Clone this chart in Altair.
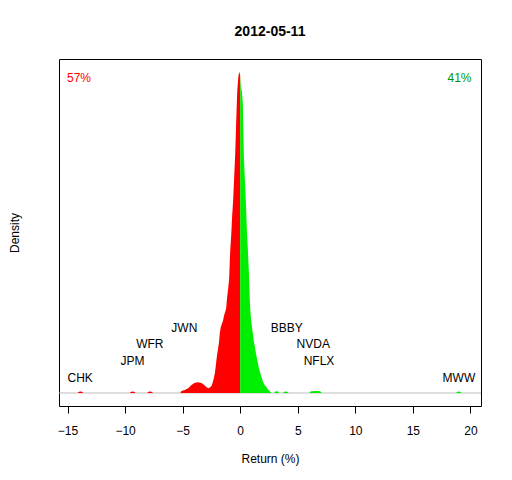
import altair as alt
import pandas as pd

# Density curve, negative-return side (return %, density)
neg_x = [-14.12, -14.0, -13.87, -13.74, -13.62,
         -9.6, -9.46, -9.34, -9.22, -9.08,
         -8.09, -7.96, -7.83, -7.70, -7.57,
         -5.2, -5.10, -4.81, -4.52, -4.23, -3.94, -3.65, -3.36, -3.13, -2.92, -2.72,
         -2.49, -2.37, -2.29, -2.20, -2.11, -2.03, -1.94, -1.85, -1.77, -1.68, -1.57,
         -1.48, -1.39, -1.30, -1.22, -1.13, -1.04, -0.96, -0.87, -0.78, -0.70, -0.61,
         -0.52, -0.43, -0.35, -0.26, -0.17, -0.09, 0.0]
neg_d = [0, 0.0021, 0.0024, 0.0021, 0,
         0, 0.0021, 0.0024, 0.0021, 0,
         0, 0.0021, 0.0024, 0.0021, 0,
         0, 0.0033, 0.005, 0.0078, 0.0133, 0.0172, 0.0178, 0.0167, 0.0133, 0.0095, 0.0078,
         0.0117, 0.0188, 0.0245, 0.0328, 0.0467, 0.0605, 0.0717, 0.0828, 0.0995, 0.1105, 0.116,
         0.1217, 0.13, 0.1355, 0.141, 0.1605, 0.1745, 0.191, 0.2355, 0.263, 0.294, 0.3217,
         0.3605, 0.40, 0.45, 0.502, 0.525, 0.5355, 0.53]

# Density curve, positive-return side
pos_x = [0.0, 0.06, 0.15, 0.23, 0.32, 0.41, 0.50, 0.58, 0.67, 0.76, 0.84, 0.93, 1.02,
         1.10, 1.19, 1.28, 1.37, 1.45, 1.54, 1.63, 1.71, 1.80, 1.89, 1.97, 2.12, 2.26,
         2.41, 2.56, 2.70,
         2.95, 3.05, 3.17, 3.29, 3.39,
         3.70, 3.83, 3.96, 4.09, 4.22,
         6.0, 6.15, 6.55, 6.95, 7.1,
         18.74, 18.87, 18.99, 19.11, 19.24]
pos_d = [0.53, 0.5105, 0.502, 0.483, 0.394, 0.355, 0.316, 0.272, 0.238, 0.1995, 0.152,
         0.1245, 0.1105, 0.0995, 0.0855, 0.077, 0.066, 0.058, 0.0495, 0.041, 0.0355,
         0.030, 0.0245, 0.019, 0.0133, 0.0105, 0.006, 0.0033, 0,
         0, 0.0025, 0.0028, 0.0025, 0,
         0, 0.0022, 0.0025, 0.0022, 0,
         0, 0.003, 0.0035, 0.003, 0,
         0, 0.0022, 0.0025, 0.0022, 0]

# Labelled stocks
stocks = ["CHK", "JPM", "WFR", "JWN", "BBBY", "NVDA", "NFLX", "MWW"]
stock_ret = [-13.9, -9.35, -7.85, -4.85, 4.05, 6.35, 6.85, 19.0]
label_y = [0.0255, 0.0525, 0.0812, 0.1088, 0.1088, 0.0812, 0.0525, 0.0255]

# Share of stocks down / up
pct_text = ["57%", "41%"]
pct_x = [-14.0, 19.05]
pct_y = [0.5255, 0.5255]
pct_color = ["#FF0000", "#009900"]

x_ticks = [-15, -10, -5, 0, 5, 10, 15, 20]

FONT = "Liberation Sans"

neg_df = pd.DataFrame({"x": neg_x, "d": neg_d})
pos_df = pd.DataFrame({"x": pos_x, "d": pos_d})
lab_df = pd.DataFrame({"x": stock_ret, "d": label_y, "t": stocks})
pct_df = pd.DataFrame({"x": pct_x, "d": pct_y, "t": pct_text, "c": pct_color})

xscale = alt.Scale(domain=[-15.74, 20.92], nice=False, zero=False)
yscale = alt.Scale(domain=[-0.02167, 0.55667], nice=False, zero=False)

xaxis = alt.Axis(title="Return (%)", values=x_ticks, grid=False, domain=False,
                 tickColor="black", tickSize=7, tickWidth=1,
                 labelFontSize=12, labelColor="black", labelFont=FONT, labelPadding=12,
                 titleFontSize=12, titleFontWeight="normal", titleColor="black",
                 titleFont=FONT, titlePadding=17, labelFlush=False)
yaxis = alt.Axis(title="Density", ticks=False, labels=False, domain=False, grid=False,
                 titleFontSize=12, titleFontWeight="normal", titleColor="black",
                 titleFont=FONT, titlePadding=38)

X = alt.X("x:Q", scale=xscale, axis=xaxis)
Y = alt.Y("d:Q", scale=yscale, axis=yaxis)

base_rule = alt.Chart(pd.DataFrame({"d": [0]})).mark_rule(color="#BEBEBE", strokeWidth=1).encode(
    y=alt.Y("d:Q", scale=yscale, axis=yaxis))

red = alt.Chart(neg_df).mark_area(color="#FF0000", opacity=1).encode(x=X, y=Y)
green = alt.Chart(pos_df).mark_area(color="#00EE00", opacity=1).encode(x=X, y=Y)

labels = alt.Chart(lab_df).mark_text(font=FONT, fontSize=12, color="black",
                                     align="center", baseline="middle").encode(
    x=X, y=Y, text="t:N")

pcts = alt.Chart(pct_df).mark_text(font=FONT, fontSize=12, align="center",
                                   baseline="middle").encode(
    x=X, y=Y, text="t:N", color=alt.Color("c:N", scale=None))

chart = alt.layer(base_rule, red, green, labels, pcts).properties(
    width=422, height=347,
    padding={"left": 51, "top": 51, "right": 23, "bottom": 66},
    autosize="none",
    title=alt.TitleParams("2012-05-11", fontSize=14, fontWeight="bold", font=FONT,
                          color="black", anchor="middle", frame="group", offset=20),
    background="white",
).configure_view(stroke="black", strokeWidth=1)

chart.save("out.html", embed_options={"renderer": "svg", "actions": False})
